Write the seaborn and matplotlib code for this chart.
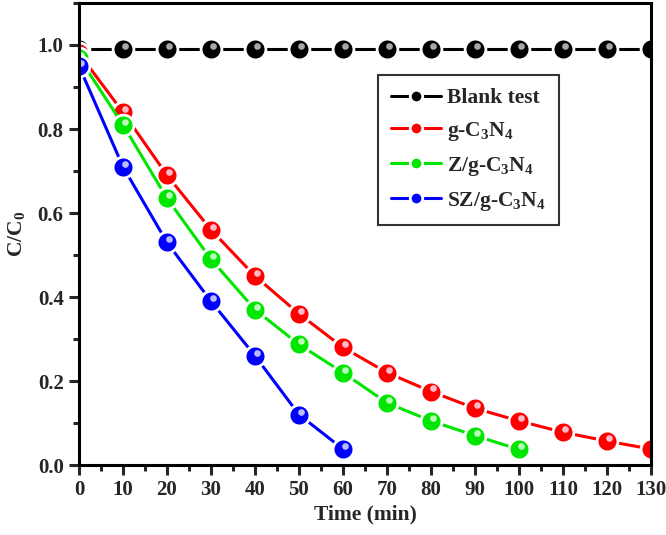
import matplotlib
matplotlib.use('Agg')
import matplotlib.pyplot as plt
import matplotlib.transforms as mtransforms
from matplotlib.ticker import MultipleLocator
import pandas as pd
import seaborn as sns

# data
time_blank = [0, 10, 20, 30, 40, 50, 60, 70, 80, 90, 100, 110, 120, 130]
blank = [0.99, 0.99, 0.99, 0.99, 0.99, 0.99, 0.99, 0.99, 0.99, 0.99, 0.99, 0.99, 0.99, 0.99]

time_g = [0, 10, 20, 30, 40, 50, 60, 70, 80, 90, 100, 110, 120, 130]
g_c3n4 = [0.98, 0.84, 0.69, 0.56, 0.45, 0.36, 0.28, 0.22, 0.175, 0.135, 0.105, 0.078, 0.057, 0.038]

time_z = [0, 10, 20, 30, 40, 50, 60, 70, 80, 90, 100]
z_g_c3n4 = [0.97, 0.81, 0.635, 0.49, 0.37, 0.287, 0.22, 0.148, 0.105, 0.07, 0.037]

time_sz = [0, 10, 20, 30, 40, 50, 60]
sz_g_c3n4 = [0.95, 0.71, 0.53, 0.39, 0.26, 0.12, 0.038]

labels = ['Blank test', r'g-C$_3$N$_4$', r'Z/g-C$_3$N$_4$', r'SZ/g-C$_3$N$_4$']
colors = ['black', '#ff0000', '#00e600', '#0000ff']
highlights = ['#bbbbbb', '#ffd0e0', '#d0ffd0', '#d0d0ff']


def main():
    sns.set_style('ticks')
    plt.rcParams['font.family'] = ['Liberation Serif', 'DejaVu Serif']
    plt.rcParams['font.weight'] = 'bold'
    plt.rcParams['mathtext.fontset'] = 'custom'
    plt.rcParams['mathtext.rm'] = 'Liberation Serif:bold'
    plt.rcParams['mathtext.it'] = 'Liberation Serif:bold'
    plt.rcParams['mathtext.bf'] = 'Liberation Serif:bold'

    fig = plt.figure(figsize=(6.66, 5.35), dpi=100)
    ax = fig.add_axes([0.1186, 0.1308, 0.8589, 0.8636])

    series = [(time_blank, blank), (time_g, g_c3n4),
              (time_z, z_g_c3n4), (time_sz, sz_g_c3n4)]

    hl_trans = mtransforms.offset_copy(ax.transData, fig=fig, x=1.6, y=2.2, units='points')

    for (t, v), label, color, hl in zip(series, labels, colors, highlights):
        df = pd.DataFrame({'Time': t, 'C': v})
        sns.lineplot(data=df, x='Time', y='C', ax=ax, color=color, label=label,
                     linewidth=2.2, marker='o', markersize=15,
                     markeredgecolor='white', markeredgewidth=2.0,
                     markerfacecolor=color)
        # glossy highlight on each sphere
        ax.plot(t, v, linestyle='', marker='o', markersize=4.8,
                markerfacecolor=hl, markeredgecolor='none', alpha=0.9,
                transform=hl_trans)

    ax.set_xlim(0, 130)
    ax.set_ylim(0, 1.1)
    ax.xaxis.set_major_locator(MultipleLocator(10))
    ax.xaxis.set_minor_locator(MultipleLocator(5))
    ax.yaxis.set_minor_locator(MultipleLocator(0.1))
    ax.set_yticks([0.0, 0.2, 0.4, 0.6, 0.8, 1.0])
    ax.set_yticklabels(['0.0', '0.2', '0.4', '0.6', '0.8', '1.0'])

    for s in ax.spines.values():
        s.set_linewidth(2.2)
        s.set_color('black')
    ax.tick_params(which='major', direction='out', length=7, width=2.2,
                   labelsize=15, pad=4, top=False, right=False)
    ax.tick_params(which='minor', direction='out', length=4, width=2.2,
                   top=False, right=False)
    for lbl in ax.get_xticklabels() + ax.get_yticklabels():
        lbl.set_fontweight('bold')

    ax.set_xlabel('Time (min)', fontsize=15.5, weight='bold', labelpad=3)
    ax.set_ylabel(r'C/C$_0$', fontsize=15.5, weight='bold', labelpad=8)

    leg = ax.legend(loc='upper left', bbox_to_anchor=(0.523, 0.844),
                    fontsize=15.5, frameon=True, fancybox=False, framealpha=1,
                    edgecolor='#333333', handlelength=2.3, handletextpad=0.3,
                    borderpad=0.6, labelspacing=0.55, markerscale=0.6,
                    borderaxespad=0)
    leg.get_frame().set_linewidth(1.5)
    for txt in leg.get_texts():
        txt.set_fontweight('bold')

    fig.savefig('out.png', dpi=100)
    plt.close(fig)


if __name__ == '__main__':
    main()
